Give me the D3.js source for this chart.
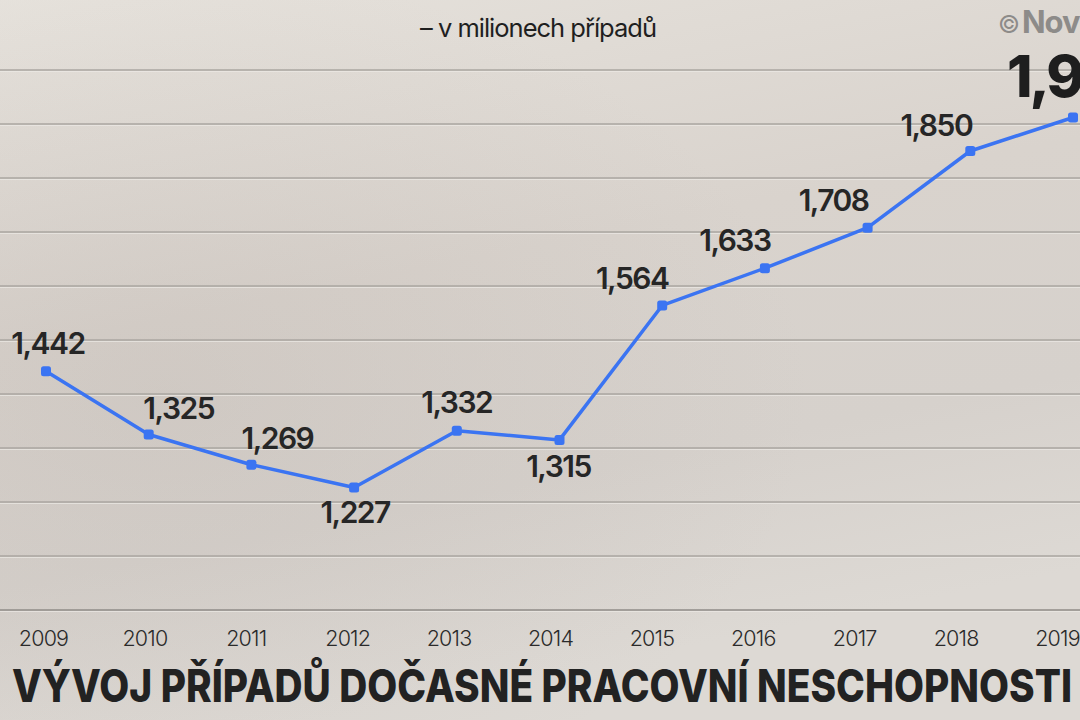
<!DOCTYPE html>
<html>
<head>
<meta charset="utf-8">
<script src="https://cdn.jsdelivr.net/npm/d3@7"></script>
<style>
  html, body { margin: 0; padding: 0; background: #dcd7d1; overflow: hidden; }
  svg { display: block; }
</style>
</head>
<body>
<svg id="chart" width="1080" height="720"></svg>
<script>
// ---- data ----
const years = ["2009","2010","2011","2012","2013","2014","2015","2016","2017","2018","2019"];
const cases = [1.442, 1.325, 1.269, 1.227, 1.332, 1.315, 1.564, 1.633, 1.708, 1.850, 1.912];
const gridValues = [1.0, 1.1, 1.2, 1.3, 1.4, 1.5, 1.6, 1.7, 1.8, 1.9, 2.0];
const titleText = "VÝVOJ PŘÍPADŮ DOČASNÉ PRACOVNÍ NESCHOPNOSTI";
const subtitleText = "– v milionech případů";
const sourceText = "Novinky";

// ---- layout ----
const W = 1080, H = 720;
const svg = d3.select("#chart");
const defs = svg.append("defs");

const bg = defs.append("linearGradient").attr("id","bg").attr("x1",0).attr("y1",0).attr("x2",0.3).attr("y2",1);
bg.append("stop").attr("offset","0%").attr("stop-color","#e6e2dc");
bg.append("stop").attr("offset","45%").attr("stop-color","#d9d3cd");
bg.append("stop").attr("offset","75%").attr("stop-color","#d6d1cc");
bg.append("stop").attr("offset","100%").attr("stop-color","#ddd9d4");
svg.append("rect").attr("width",W).attr("height",H).attr("fill","url(#bg)");

const rg = defs.append("radialGradient").attr("id","shade").attr("cx",0.15).attr("cy",0.55).attr("r",0.6);
rg.append("stop").attr("offset","0%").attr("stop-color","#b5aca6").attr("stop-opacity",0.25);
rg.append("stop").attr("offset","100%").attr("stop-color","#b5aca6").attr("stop-opacity",0);
svg.append("rect").attr("width",W).attr("height",H).attr("fill","url(#shade)");

const x = d3.scalePoint().domain(years).range([46, 1073]);
const xAxisScale = d3.scalePoint().domain(years).range([43, 1057]);
const y = d3.scaleLinear().domain([1.0, 2.0]).range([610, 70]);

// gridlines
const grid = svg.append("g");
grid.selectAll("line.hl").data(gridValues).join("line")
  .attr("x1",0).attr("x2",W)
  .attr("y1",d=>y(d)+1.5).attr("y2",d=>y(d)+1.5)
  .attr("stroke","#ece9e5").attr("stroke-width",1).attr("stroke-opacity",0.7);
grid.selectAll("line.g").data(gridValues).join("line")
  .attr("x1",0).attr("x2",W)
  .attr("y1",d=>y(d)).attr("y2",d=>y(d))
  .attr("stroke",d=> d===1.0 ? "#8f8b87" : "#aaa6a1")
  .attr("stroke-width",1.6);

// x axis labels
const xAxis = d3.axisBottom(xAxisScale).tickSize(0).tickPadding(0);
const gx = svg.append("g").attr("transform","translate(0,631)").call(xAxis);
gx.select(".domain").remove();
gx.selectAll("text")
  .attr("font-family","Inter, 'Liberation Sans', sans-serif")
  .attr("font-weight",300)
  .attr("font-size",21.5)
  .attr("letter-spacing","-0.8px")
  .attr("fill","#2a2a2a");

// line
const pts = years.map((yr,i)=>({year:yr, value:cases[i]}));
const line = d3.line().x(d=>x(d.year)).y(d=>y(d.value));
svg.append("path").datum(pts)
  .attr("d",line).attr("fill","none")
  .attr("stroke","#3b74f2").attr("stroke-width",3.5)
  .attr("stroke-linejoin","round");

svg.selectAll("rect.m").data(pts).join("rect")
  .attr("x",d=>x(d.year)-5).attr("y",d=>y(d.value)-5)
  .attr("width",10).attr("height",10).attr("rx",2.5)
  .attr("fill","#3b74f2");

// value labels (placement offsets relative to each point)
const place = [[2,-17],[30,-16],[26,-16],[1,36],[0,-18],[-1,37],[-30,-16],[-30,-17],[-34,-17],[-34,-15]];
const fmt = v => d3.format(".3f")(v).replace(".", ",");
svg.selectAll("text.val").data(pts.slice(0,-1)).join("text")
  .attr("x",(d,i)=>x(d.year)+place[i][0])
  .attr("y",(d,i)=>y(d.value)+place[i][1])
  .attr("text-anchor","middle")
  .attr("font-family","Inter, 'Liberation Sans', sans-serif")
  .attr("font-weight",600)
  .attr("font-size",30)
  .attr("letter-spacing","-1.5px")
  .attr("fill","#262626")
  .text(d=>fmt(d.value));

const last = pts[pts.length-1];
svg.append("text")
  .attr("x",x(last.year)-66)
  .attr("y",y(last.value)-21)
  .attr("text-anchor","start")
  .attr("font-family","Inter, 'Liberation Sans', sans-serif")
  .attr("font-weight",800)
  .attr("font-size",58)
  .attr("letter-spacing","-3px")
  .attr("fill","#1e1e1e")
  .text(fmt(last.value));

// subtitle
svg.append("text")
  .attr("x",420).attr("y",37)
  .attr("font-family","Inter, 'Liberation Sans', sans-serif")
  .attr("font-weight",400)
  .attr("font-size",25.5)
  .attr("letter-spacing","-1px")
  .attr("fill","#1f1f1f")
  .text(subtitleText);

// source
const src = svg.append("text")
  .attr("x",998).attr("y",33)
  .attr("font-family","Inter, 'Liberation Sans', sans-serif")
  .attr("fill","#8d8b89");
src.append("tspan").attr("font-size",24).attr("font-weight",400).text("©");
src.append("tspan").attr("dx",2).attr("font-size",31).attr("font-weight",700).attr("letter-spacing","-1px").text(sourceText);

// title
svg.append("text")
  .attr("x",12).attr("y",702)
  .attr("font-family","Inter, 'Liberation Sans', sans-serif")
  .attr("font-weight",800)
  .attr("font-size",45)
  .attr("textLength",1060)
  .attr("lengthAdjust","spacingAndGlyphs")
  .attr("fill","#222222")
  .text(titleText);
</script>
</body>
</html>
